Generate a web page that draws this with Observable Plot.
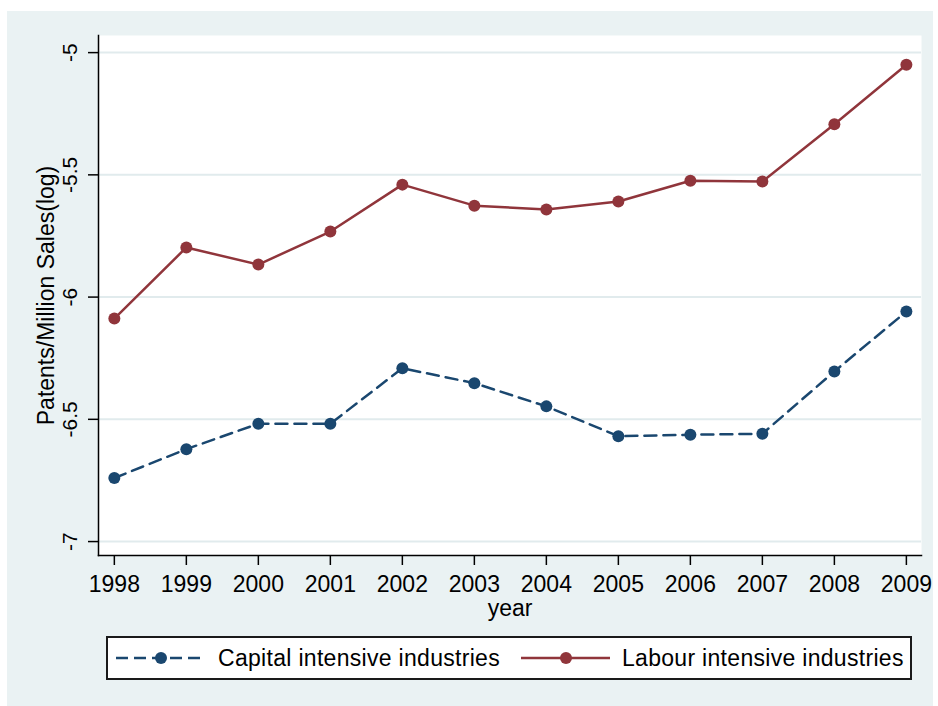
<!DOCTYPE html>
<html>
<head>
<meta charset="utf-8">
<script src="https://cdn.jsdelivr.net/npm/d3@7"></script>
<script src="https://cdn.jsdelivr.net/npm/@observablehq/plot@0.6"></script>
<style>
  html, body { margin: 0; padding: 0; background: #ffffff; }
  #page { position: relative; width: 938px; height: 706px; overflow: hidden; font-family: "Liberation Sans", Arial, sans-serif; }
  #bg { position: absolute; left: 7px; top: 11px; width: 926px; height: 695px; background: #EAF2F3; }
  #chart { position: absolute; left: 0; top: 0; }
  #legend { position: absolute; left: 106px; top: 636px; width: 806px; height: 44px; box-sizing: border-box;
            border: 2px solid #1a1a1a; background: #fff; }
  .item { position: absolute; top: 0; height: 40px; display: flex; align-items: center; font-size: 23px; letter-spacing: 0.3px; color: #000; white-space: nowrap; }
  .item svg { display: block; }
</style>
</head>
<body>
<div id="page">
  <div id="bg"></div>
  <div id="chart"></div>
  <div id="legend"></div>
</div>
<script>
// ---- data ----
const years = [1998, 1999, 2000, 2001, 2002, 2003, 2004, 2005, 2006, 2007, 2008, 2009];
const capital = [-6.740, -6.622, -6.518, -6.518, -6.291, -6.352, -6.447, -6.569, -6.563, -6.559, -6.304, -6.059];
const labour  = [-6.088, -5.797, -5.867, -5.732, -5.540, -5.626, -5.642, -5.609, -5.524, -5.527, -5.293, -5.050];
const seriesNames = ["Capital intensive industries", "Labour intensive industries"];
const seriesColors = ["#1A476F", "#90353B"];
const yTicks = [-5, -5.5, -6, -6.5, -7];
const yTickLabels = ["-5", "-5.5", "-6", "-6.5", "-7"];
const xTitle = "year";
const yTitle = "Patents/Million Sales(log)";

const capData = years.map((y, i) => ({year: y, value: capital[i]}));
const labData = years.map((y, i) => ({year: y, value: labour[i]}));

const chart = Plot.plot({
  width: 938,
  height: 630,
  marginLeft: 98,
  marginRight: 17,
  marginTop: 35,
  marginBottom: 75,
  style: {background: "transparent", fontFamily: "'Liberation Sans', Arial, sans-serif", fontSize: "23px", color: "#000"},
  x: {domain: [1997.78, 2009.21], label: null},
  y: {domain: [-7.057, -4.93], label: null},
  marks: [
    Plot.frame({fill: "white", stroke: "none"}),
    Plot.gridY(yTicks, {stroke: "#E1EBED", strokeOpacity: 1, strokeWidth: 2}),
    Plot.frame({anchor: "left", stroke: "#000", strokeWidth: 1.5}),
    Plot.frame({anchor: "bottom", stroke: "#000", strokeWidth: 1.5}),
    Plot.axisX({ticks: years, tickFormat: d => String(d), tickSize: 10, tickPadding: 10, strokeWidth: 1.5,
                label: xTitle, labelAnchor: "center", labelOffset: 60, labelArrow: "none"}),
    Plot.axisY({ticks: yTicks, tickFormat: d => yTickLabels[yTicks.indexOf(d)], tickSize: 10, tickPadding: 12, strokeWidth: 1.5,
                tickRotate: -90, textAnchor: "middle", lineAnchor: "bottom", fontSize: 21, label: null}),
    Plot.axisY({ticks: [], tickSize: 0, label: yTitle, labelAnchor: "center", labelOffset: 61, labelArrow: "none",
                style: {letterSpacing: "0.4px"}}),
    Plot.line(labData, {x: "year", y: "value", stroke: seriesColors[1], strokeWidth: 2.5}),
    Plot.line(capData, {x: "year", y: "value", stroke: seriesColors[0], strokeWidth: 2.5, strokeDasharray: "12,7"}),
    Plot.dot(labData, {x: "year", y: "value", fill: seriesColors[1], r: 6}),
    Plot.dot(capData, {x: "year", y: "value", fill: seriesColors[0], r: 6})
  ]
});
document.getElementById("chart").appendChild(chart);

// ---- legend ----
const legend = document.getElementById("legend");
const legendLayout = [{swatchLeft: 7, textLeft: 110}, {swatchLeft: 412, textLeft: 514}];
seriesNames.forEach((name, i) => {
  const sw = document.createElement("div");
  sw.className = "item";
  sw.style.left = legendLayout[i].swatchLeft + "px";
  const dash = i === 0 ? ' stroke-dasharray="12,6"' : '';
  sw.innerHTML = `<svg width="92" height="20"><line x1="1" y1="10" x2="90" y2="10" stroke="${seriesColors[i]}" stroke-width="2.5"${dash}/><circle cx="46" cy="10" r="6" fill="${seriesColors[i]}"/></svg>`;
  legend.appendChild(sw);
  const tx = document.createElement("div");
  tx.className = "item";
  tx.style.left = legendLayout[i].textLeft + "px";
  tx.textContent = name;
  legend.appendChild(tx);
});
</script>
</body>
</html>
